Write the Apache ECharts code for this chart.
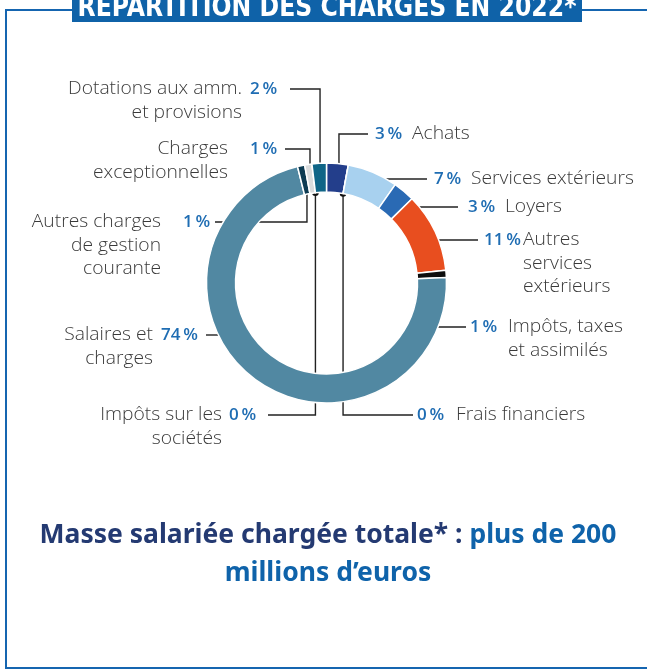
<!DOCTYPE html>
<html>
<head>
<meta charset="utf-8">
<script src="https://cdn.jsdelivr.net/npm/echarts@6/dist/echarts.min.js"></script>
<style>
  html, body { margin: 0; padding: 0; background: #fff; }
  #chart { width: 647px; height: 671px; }
</style>
</head>
<body>
<div id="chart"></div>
<script>
// ---- data ----
const categories = [
  'Achats',
  'Frais financiers',
  'Services extérieurs',
  'Loyers',
  'Autres\nservices\nextérieurs',
  'Impôts, taxes\net assimilés',
  'Salaires et\ncharges',
  'Autres charges\nde gestion\ncourante',
  'Charges\nexceptionnelles',
  'Impôts sur les\nsociétés',
  'Dotations aux amm.\net provisions'
];
const shares = [3, 0, 7, 3, 11, 1, 74, 1, 1, 0, 2];
const titleText = 'RÉPARTITION DES CHARGES EN 2022*';
const footerMain = 'Masse salariée chargée totale* : ';
const footerHighlight = 'plus de 200';
const footerLine2 = 'millions d’euros';

// ---- styles / layout (not data) ----
const colors = ['#233e8b', '#9a9a9a', '#a8d1ef', '#2a6ab4', '#e84e1f', '#0d0d0d',
                '#5188a2', '#0d3b52', '#dadcdd', '#9a9a9a', '#0f6587'];
const labelLayout = [
  { side: 'r', type: 'v', y: 134, pctX: 375, nameX: 412, lineX: 368, af: 0.64, rf: 0.54 },
  { side: 'r', type: 'v', y: 415, pctX: 417, nameX: 456, lineX: 413, af: 0, rf: 0 },
  { side: 'r', type: 'h', y: 179, pctX: 434, nameX: 471, lineX: 427, af: 0.5 },
  { side: 'r', type: 'h', y: 207, pctX: 468, nameX: 505, lineX: 458, af: 0.5 },
  { side: 'r', type: 'h', y: 240, pctX: 484, nameX: 523, lineX: 478, af: 0.5 },
  { side: 'r', type: 'v', y: 327, pctX: 470, nameX: 508, lineX: 466, af: 0.39, rf: 0.6 },
  { side: 'l', type: 'h', y: 335, pctX: 161, nameX: 153, lineX: 206, af: 0.6 },
  { side: 'l', type: 'v', y: 222, pctX: 183, nameX: 161, lineX: 215, af: 0.71, rf: 0.24 },
  { side: 'l', type: 'v', y: 149, pctX: 250, nameX: 228, lineX: 285, af: 0.56, rf: 0.7 },
  { side: 'l', type: 'v', y: 415, pctX: 229, nameX: 222, lineX: 268, af: 0, rf: 0 },
  { side: 'l', type: 'v', y: 89,  pctX: 250, nameX: 242, lineX: 290, af: 0.51, rf: 0.59 }
];
const LABEL_FONT = '"Open Sans", "Noto Sans", sans-serif';
const LABEL_STRETCH = 1.07;
const LINE_H = 23.5;
const BLUE = '#1f6db3';
const FRAME = '#1565b0';

const chart = echarts.init(document.getElementById('chart'), null, { renderer: 'canvas' });

chart.setOption({
  animation: false,
  series: [{
    type: 'pie',
    center: [326.5, 283],
    radius: [91, 120],
    startAngle: 90,
    clockwise: true,
    avoidLabelOverlap: false,
    label: { show: false },
    labelLine: { show: false },
    emphasis: { disabled: true },
    itemStyle: { borderColor: '#fff', borderWidth: 1.5 },
    data: shares.map((v, i) => ({ value: v, name: categories[i], itemStyle: { color: colors[i] } }))
  }]
});

const cnv = document.createElement('canvas').getContext('2d');
function fitScale(text, font, target) {
  cnv.font = font;
  return target / cnv.measureText(text).width;
}
const titleFont = 'bold 28px "Liberation Sans Narrow", "DejaVu Sans Condensed", sans-serif';
const titleScale = fitScale(titleText, titleFont, 499);

const graphics = [];
graphics.push({ type: 'polyline', silent: true, shape: { points: [[72, 10], [6, 10], [6, 668], [647, 668]] },
  style: { stroke: FRAME, lineWidth: 2, fill: null } });
graphics.push({ type: 'line', silent: true, shape: { x1: 582, y1: 10, x2: 647, y2: 10 },
  style: { stroke: FRAME, lineWidth: 2 } });
graphics.push({ type: 'rect', silent: true, shape: { x: 72, y: 0, width: 510, height: 22 },
  style: { fill: '#0f62a8' } });
graphics.push({ type: 'text', silent: true, x: 327, y: 22.5, scaleX: titleScale, originX: 0,
  style: { text: titleText, font: titleFont, fill: '#fff', align: 'center', verticalAlign: 'bottom' } });

const data = chart.getModel().getSeriesByIndex(0).getData();
for (let i = 0; i < shares.length; i++) {
  const L = labelLayout[i];
  const lay = data.getItemLayout(i);
  const a = lay.startAngle + L.af * (lay.endAngle - lay.startAngle);
  let dot;
  if (L.type === 'h') {
    const r = (L.y - lay.cy) / Math.sin(a);
    dot = [lay.cx + r * Math.cos(a), L.y];
  } else {
    const r = lay.r0 + L.rf * (lay.r - lay.r0);
    dot = [lay.cx + r * Math.cos(a), lay.cy + r * Math.sin(a)];
  }
  const pts = L.type === 'h' ? [dot, [L.lineX, L.y]] : [dot, [dot[0], L.y], [L.lineX, L.y]];
  graphics.push({ type: 'polyline', silent: true, shape: { points: pts },
    style: { stroke: '#222', lineWidth: 1.4, fill: null } });
  graphics.push({ type: 'circle', silent: true, shape: { cx: dot[0], cy: dot[1], r: 3.3 },
    style: { fill: '#111' } });
  graphics.push({ type: 'text', silent: true, x: L.pctX, y: L.y,
    style: { text: shares[i] + '\u2009%', font: '600 17px ' + LABEL_FONT, fill: BLUE,
      align: 'left', verticalAlign: 'middle' } });
  categories[i].split('\n').forEach((ln, k) => {
    graphics.push({ type: 'text', silent: true, x: L.nameX, y: L.y + k * LINE_H, scaleX: LABEL_STRETCH,
      style: { text: ln, font: '300 18px ' + LABEL_FONT, fill: '#3a3a3a',
        align: L.side === 'l' ? 'right' : 'left', verticalAlign: 'middle' } });
  });
}

graphics.push({ type: 'text', silent: true, x: 328, y: 554,
  style: {
    text: '{a|' + footerMain + '}{b|' + footerHighlight + '}\n{b|' + footerLine2 + '}',
    align: 'center', verticalAlign: 'middle',
    rich: {
      a: { font: 'bold 26.5px "Noto Sans", sans-serif', fill: '#243a72', lineHeight: 38 },
      b: { font: 'bold 26.5px "Noto Sans", sans-serif', fill: '#0f63aa', lineHeight: 38 }
    }
  } });

chart.setOption({ graphic: { elements: graphics } });
</script>
</body>
</html>
